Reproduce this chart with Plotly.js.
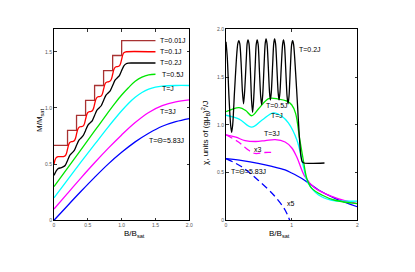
<!DOCTYPE html>
<html><head><meta charset="utf-8">
<script src="https://cdn.plot.ly/plotly-3.0.1.min.js"></script>
<style>html,body{margin:0;padding:0;background:#fff}#chart{width:415px;height:272px}</style>
</head><body><div id="chart"></div>
<script>
// ---------- Left panel: magnetization M/Msat vs B/Bsat ----------
const stairX = [0,0.2,0.2,0.333,0.333,0.467,0.467,0.6,0.6,0.733,0.733,0.867,0.867,1.0,1.0,1.5];
const stairY = [0.667,0.667,0.8,0.8,0.933,0.933,1.067,1.067,1.2,1.2,1.333,1.333,1.467,1.467,1.6,1.6];

const redX = [0,0.015,0.03,0.06,0.14,0.17,0.185,0.2,0.215,0.23,0.26,0.273,0.303,0.318,0.333,0.348,0.363,0.393,0.407,0.437,0.452,0.467,0.482,0.497,0.527,0.54,0.57,0.585,0.6,0.615,0.63,0.66,0.673,0.703,0.718,0.733,0.748,0.763,0.793,0.807,0.837,0.852,0.867,0.882,0.897,0.927,0.94,0.97,0.985,1.0,1.015,1.03,1.06,1.5];
const redY = [0.5,0.536,0.556,0.567,0.567,0.577,0.597,0.633,0.67,0.69,0.7,0.7,0.71,0.73,0.767,0.803,0.823,0.833,0.833,0.843,0.863,0.9,0.937,0.957,0.967,0.967,0.977,0.997,1.033,1.07,1.09,1.1,1.1,1.11,1.13,1.167,1.203,1.223,1.233,1.233,1.243,1.263,1.3,1.337,1.357,1.367,1.367,1.377,1.397,1.433,1.47,1.49,1.5,1.5];

const blkX = [0,0.033,0.067,0.1,0.133,0.167,0.2,0.233,0.267,0.3,0.333,0.367,0.4,0.433,0.467,0.5,0.533,0.567,0.6,0.633,0.667,0.7,0.733,0.767,0.8,0.833,0.867,0.9,0.933,0.967,1.0,1.033,1.067,1.1,1.15,1.5];
const blkY = [0.4,0.44,0.462,0.467,0.475,0.49,0.533,0.578,0.6,0.622,0.667,0.712,0.733,0.755,0.8,0.845,0.867,0.888,0.933,0.978,1.0,1.022,1.067,1.112,1.133,1.155,1.2,1.245,1.267,1.288,1.333,1.375,1.393,1.399,1.4,1.4];

const grnX = [0,0.2,0.4,0.6,0.8,0.9,1.0,1.1,1.2,1.3,1.4,1.5];
const grnY = [0.3,0.465,0.63,0.795,0.96,1.04,1.115,1.18,1.237,1.275,1.295,1.3];

const cyaX = [0,0.2,0.4,0.6,0.8,1.0,1.1,1.2,1.3,1.4,1.5,1.6,1.8,2.0];
const cyaY = [0.2,0.36,0.52,0.675,0.83,0.975,1.04,1.095,1.138,1.168,1.186,1.195,1.2,1.2];

const magX = [0,0.2,0.4,0.6,0.8,1.0,1.2,1.4,1.6,1.8,2.0];
const magY = [0.1,0.24,0.378,0.512,0.64,0.76,0.87,0.96,1.02,1.055,1.072];

const bluX = [0,0.2,0.4,0.6,0.8,1.0,1.2,1.4,1.6,1.8,2.0];
const bluY = [0,0.13,0.258,0.382,0.5,0.605,0.698,0.775,0.837,0.878,0.905];

// ---------- Right panel: susceptibility ----------
const cBlkX = [0,0.02,0.045,0.07,0.086,0.102,0.13,0.165,0.18,0.195,0.21,0.23,0.25,0.267,0.284,0.31,0.322,0.335,0.35,0.37,0.39,0.405,0.42,0.445,0.46,0.475,0.49,0.51,0.528,0.543,0.558,0.58,0.597,0.61,0.625,0.645,0.663,0.676,0.69,0.71,0.727,0.74,0.755,0.775,0.794,0.808,0.822,0.843,0.862,0.875,0.89,0.91,0.93,0.945,0.96,0.982,1.0,1.015,1.03,1.06,1.09,1.115,1.14,1.16,1.19,1.5];
const cBlkY = [1.87,1.70,1.30,1.00,0.92,1.00,1.35,1.75,1.85,1.88,1.85,1.65,1.35,1.22,1.35,1.70,1.85,1.89,1.85,1.60,1.25,1.13,1.25,1.62,1.84,1.89,1.84,1.55,1.30,1.21,1.30,1.62,1.85,1.90,1.85,1.60,1.34,1.26,1.34,1.62,1.85,1.90,1.85,1.60,1.34,1.26,1.34,1.62,1.84,1.89,1.84,1.58,1.30,1.22,1.30,1.62,1.84,1.88,1.84,1.55,1.20,0.90,0.68,0.615,0.60,0.60];

const cGrnX = [0,0.1,0.2,0.3,0.39,0.5,0.65,0.8,0.92,1.0,1.06,1.12,1.18,1.23,1.3,1.46,1.66,2.0];
const cGrnY = [1.137,1.165,1.18,1.15,1.095,1.17,1.275,1.27,1.25,1.21,1.12,0.86,0.62,0.44,0.34,0.265,0.21,0.175];

const cCyaX = [0,0.2,0.39,0.55,0.72,0.85,0.95,1.08,1.18,1.25,1.41,1.61,1.83,2.0];
const cCyaY = [1.10,1.06,0.975,1.05,1.125,1.09,1.02,0.84,0.56,0.39,0.265,0.21,0.20,0.20];

const cMagX = [0,0.15,0.29,0.45,0.6,0.75,0.9,1.0,1.08,1.2,1.36,1.61,1.81,2.0];
const cMagY = [0.895,0.87,0.835,0.825,0.835,0.845,0.82,0.76,0.66,0.46,0.335,0.25,0.205,0.175];

const cMag3X = [0,0.19,0.34,0.44,0.59,0.72];
const cMag3Y = [0.895,0.82,0.736,0.70,0.71,0.71];

const cBluX = [0,0.25,0.49,0.7,0.9,1.0,1.15,1.3,1.41,1.66,2.0];
const cBluY = [0.645,0.625,0.597,0.565,0.527,0.495,0.44,0.37,0.317,0.23,0.142];

const cBlu5X = [0,0.24,0.49,0.75,0.9,0.97];
const cBlu5Y = [0.645,0.56,0.42,0.247,0.108,0.0];

const leftLabels = [
  {t:'T=0.01J', x:1.536, y:1.604},
  {t:'T=0.1J', x:1.536, y:1.5},
  {t:'T=0.2J', x:1.536, y:1.406},
  {t:'T=0.5J', x:1.56, y:1.295},
  {t:'T=J', x:1.56, y:1.175},
  {t:'T=3J', x:1.536, y:0.972},
  {t:'T=\u0398=5.83J', x:1.373, y:0.706}
];
const rightLabels = [
  {t:'T=0.2J', x:1.086, y:1.79},
  {t:'T=0.5J', x:0.58, y:1.197},
  {t:'T=J', x:0.655, y:1.095},
  {t:'T=3J', x:0.548, y:0.904},
  {t:'x3', x:0.39, y:0.746},
  {t:'T=\u0398=5.83J', x:0.046, y:0.516},
  {t:'x5', x:0.9, y:0.18}
];

const W = 1.3;
function tr(x,y,color,axis,opts){
  const o = Object.assign({x:x,y:y,mode:'lines',type:'scatter',hoverinfo:'skip',showlegend:false,
    line:{color:color,width:W}}, opts||{});
  if(axis===2){o.xaxis='x2';o.yaxis='y2';}
  return o;
}
const GRN = '#00e600', BRN = '#a83232';
const data = [
  tr(bluX,bluY,'#0000ff',1,{line:{color:'#0000ff',width:W,shape:'spline'}}),
  tr(magX,magY,'#ff00ff',1,{line:{color:'#ff00ff',width:W,shape:'spline'}}),
  tr(cyaX,cyaY,'#00ffff',1,{line:{color:'#00ffff',width:W,shape:'spline'}}),
  tr(grnX,grnY,GRN,1,{line:{color:GRN,width:W,shape:'spline'}}),
  tr(blkX,blkY,'#000000',1,{line:{color:'#000000',width:W,shape:'spline',smoothing:0.6}}),
  tr(stairX,stairY,BRN,1),
  tr(redX,redY,'#ff0000',1,{line:{color:'#ff0000',width:W,shape:'spline',smoothing:0.5}}),

  tr(cBluX,cBluY,'#0000ff',2,{line:{color:'#0000ff',width:W,shape:'spline'}}),
  tr(cBlu5X,cBlu5Y,'#0000ff',2,{line:{color:'#0000ff',width:W,shape:'spline',dash:'7px,4px'}}),
  tr(cMagX,cMagY,'#ff00ff',2,{line:{color:'#ff00ff',width:W,shape:'spline'}}),
  tr(cMag3X,cMag3Y,'#ff00ff',2,{line:{color:'#ff00ff',width:W,shape:'spline',dash:'7px,4px'}}),
  tr(cCyaX,cCyaY,'#00ffff',2,{line:{color:'#00ffff',width:W,shape:'spline'}}),
  tr(cGrnX,cGrnY,GRN,2,{line:{color:GRN,width:W,shape:'spline'}}),
  tr(cBlkX,cBlkY,'#000000',2,{line:{color:'#000000',width:W,shape:'spline',smoothing:0.8}})
];

const fontFam = 'Liberation Sans, Arial, sans-serif';
const tickFont = {family:fontFam,size:5,color:'#555'};
function ax(domain,range,tickvals,ticktext,anchor){
  return {domain:domain,range:range,tickvals:tickvals,ticktext:ticktext,anchor:anchor,
    showline:true,linecolor:'#000',linewidth:1,mirror:'ticks',ticks:'inside',ticklen:2.5,
    tickcolor:'#000',tickwidth:0.8,showgrid:false,zeroline:false,tickfont:tickFont,fixedrange:true};
}

const annotations = [];
leftLabels.forEach(l=>annotations.push({text:l.t,x:l.x,y:l.y,xref:'x',yref:'y',xanchor:'left',yanchor:'middle',showarrow:false,font:{family:fontFam,size:7,color:'#000'}}));
rightLabels.forEach(l=>annotations.push({text:l.t,x:l.x,y:l.y,xref:'x2',yref:'y2',xanchor:'left',yanchor:'middle',showarrow:false,font:{family:fontFam,size:7,color:'#000'}}));
annotations.push({text:'M/M<sub>sat</sub>',x:33/415,y:1-121/272,xref:'paper',yref:'paper',textangle:-90,showarrow:false,font:{family:fontFam,size:8,color:'#000'}});
annotations.push({text:'\u03c7, units of (g\u03bc<sub>B</sub>)<sup>2</sup>/J',x:205/415,y:1-133/272,xref:'paper',yref:'paper',textangle:-90,showarrow:false,font:{family:fontFam,size:8,color:'#000'}});
annotations.push({text:'B/B<sub>sat</sub>',x:122/415,y:1-241/272,xref:'paper',yref:'paper',showarrow:false,font:{family:fontFam,size:8,color:'#000'}});
annotations.push({text:'B/B<sub>sat</sub>',x:292/415,y:1-241/272,xref:'paper',yref:'paper',showarrow:false,font:{family:fontFam,size:8,color:'#000'}});

const layout = {
  width:415,height:272,margin:{l:0,r:0,t:0,b:0},paper_bgcolor:'#fff',plot_bgcolor:'#fff',
  showlegend:false,
  xaxis: ax([54/415,189.3/415],[0,2],[0,0.5,1,1.5,2],['0','0.5','1.0','1.5','2.0'],'y'),
  yaxis: ax([1-220.3/272,1-29.3/272],[0,1.7],[0,0.5,1,1.5],['0','0.5','1.0','1.5'],'x'),
  xaxis2: ax([226/415,357.3/415],[0,2],[0,1,2],['0','1','2'],'y2'),
  yaxis2: ax([1-220.3/272,1-29.3/272],[0,2],[0,0.5,1,1.5,2],['0','0.5','1.0','1.5','2.0'],'x2'),
  annotations:annotations
};
Plotly.newPlot('chart',data,layout,{staticPlot:true,displayModeBar:false});
</script></body></html>
